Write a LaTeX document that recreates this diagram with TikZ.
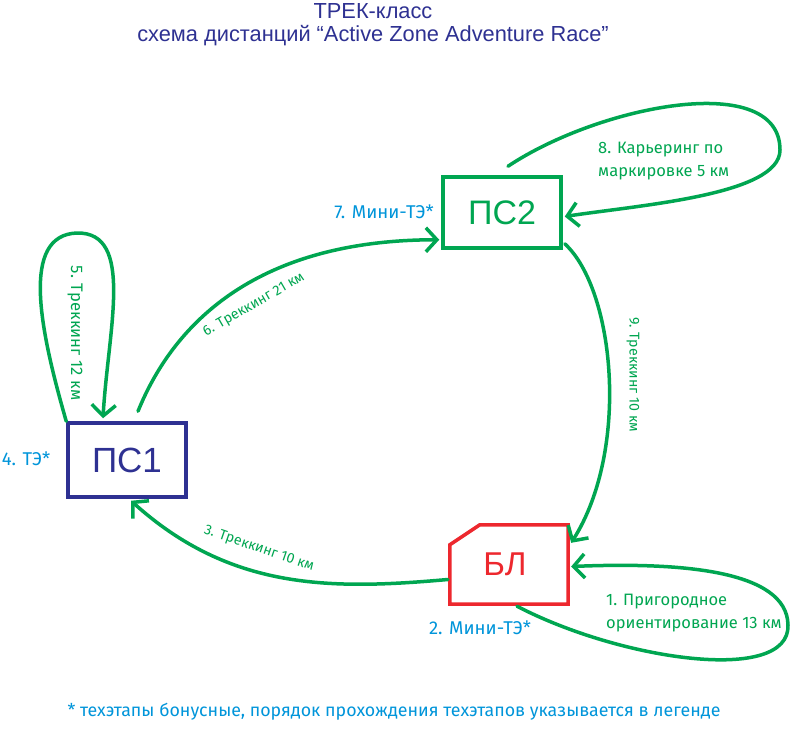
\documentclass[tikz,border=0pt]{standalone}
\usepackage{fontspec}
\setmainfont{Liberation Sans}
\newfontfamily\lblfont{Fira Sans}
\usetikzlibrary{arrows.meta,calc}
\definecolor{cgreen}{RGB}{0,166,81}
\definecolor{cred}{RGB}{237,40,46}
\definecolor{cnavy}{RGB}{46,49,146}
\definecolor{cblue}{RGB}{0,149,218}
\begin{document}
\begin{tikzpicture}[x=1pt,y=-1pt,
  route/.style={draw=cgreen, line width=3.5pt, line cap=round, -{Straight Barb[length=11pt,width=24pt]}},
  boxnode/.style={draw, line width=3.5pt, minimum width=118pt, font=\fontsize{34}{38}\selectfont},
  lbl/.style={text=cgreen, font=\lblfont\fontsize{16.5}{23}\selectfont, align=left, inner sep=0pt},
  rlbl/.style={text=cgreen, font=\lblfont\fontsize{14.2}{17}\selectfont, inner sep=0pt},
  tag/.style={text=cblue, font=\lblfont\fontsize{18.5}{21}\selectfont, inner sep=0pt}]
\useasboundingbox (0,0) rectangle (800,731);
\fill[white] (0,0) rectangle (800,731);

% title
\node[text=cnavy, align=center, font=\fontsize{21.8}{23.5}\selectfont, inner sep=0pt] (title) at (373,24.5)
  {ТРЕК-класс\\схема дистанций “Active Zone Adventure Race”};

% boxes
\node[boxnode, draw=cnavy, text=cnavy, minimum height=74pt, font=\fontsize{35}{40}\selectfont] (ps1) at (127,460) {ПС1};
\node[boxnode, draw=cgreen, text=cgreen, minimum height=71pt] (ps2) at (502,212.5) {ПС2};
\node[minimum width=118pt, minimum height=79pt, text=cred, font=\fontsize{33}{36}\selectfont] (bl) at (509,564.5) {\kern-8ptБЛ};
\draw[cred, line width=3.5pt, line join=miter]
  ($(bl.north west)+(0,20)$) -- ($(bl.north west)+(30,0)$) -- (bl.north east)
  -- (bl.south east) -- (bl.south west) -- cycle;

% routes
\draw[route] ($(bl.south)+(8,2)$) .. controls (620,660) and (790,685) .. (788,625)
  .. controls (787,570) and (680,562) .. ($(bl.east)+(3,2)$);
\draw[route] ($(bl.west)+(-2,15)$) .. controls (330,590) and (230,590) .. ($(ps1.south)+(4,2)$);
\draw[route] (ps1.north west) .. controls (40,330) and (20,235) .. (77,233)
  .. controls (135,232) and (108,330) .. ($(ps1.north)+(-24,-3)$);
\draw[route] ($(ps1.north)+(11,-10)$) .. controls (175,320) and (260,240) .. ($(ps2.south west)+(-2,-10)$);
\draw[route] ($(ps2.north)+(6,-9)$) .. controls (600,105) and (780,70) .. (780,150)
  .. controls (780,195) and (640,205) .. ($(ps2.east)+(2,4)$);
\draw[route] ($(ps2.south east)+(2,-6)$) .. controls (615,290) and (630,450) .. ($(bl.north east)+(3,18)$);

% route labels
\node[lbl, anchor=west] (l8) at (598,161.5) {8. Карьеринг по\\маркировке 5 км};
\node[lbl, anchor=west] (l1) at (606,613.5) {1. Пригородное\\ориентирование 13 км};
\node[rlbl, rotate=-90, font=\lblfont\fontsize{16.7}{19}\selectfont] (l5) at (75,333) {5. Треккинг 12 км};
\node[rlbl, rotate=-90] (l9) at (633,375) {9. Треккинг 10 км};
\node[rlbl, rotate=30] (l6) at (254,305) {6. Треккинг 21 км};
\node[rlbl, rotate=-19] (l3) at (259,549) {3. Треккинг 10 км};

% tech stage tags
\node[tag] (t4) at (26,459) {4. ТЭ*};
\node[tag] (t7) at (384,212) {7. Мини-ТЭ*};
\node[tag] (t2) at (480,628) {2. Мини-ТЭ*};

% footnote
\node[tag, font=\lblfont\fontsize{17.8}{20}\selectfont] (foot) at (394,712)
  {* техэтапы бонусные, порядок прохождения техэтапов указывается в легенде};
\end{tikzpicture}
\end{document}
